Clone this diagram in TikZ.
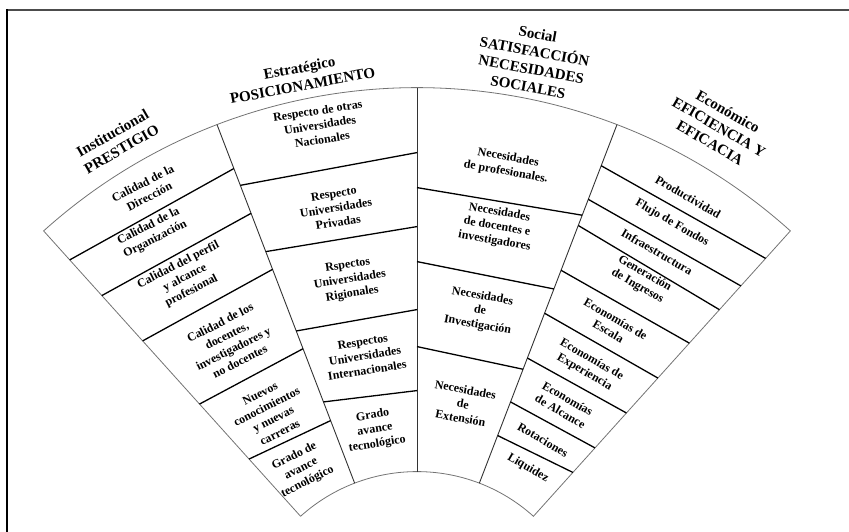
\documentclass[tikz,border=0pt]{standalone}
\usepackage{fontspec}
\setmainfont{Liberation Serif}
\begin{document}
\begin{tikzpicture}[x=1pt,y=1pt,
  celltext/.style={font=\bfseries\fontsize{12}{14.5}\selectfont, align=center, inner sep=0pt},
  headtext/.style={font=\bfseries\fontsize{15}{18}\selectfont, align=center, inner sep=0pt},
  edgeline/.style={draw=black!55, line width=0.8pt},
  sectorline/.style={draw=black!80, line width=0.9pt},
  bandline/.style={draw=black, line width=1.3pt}]
\useasboundingbox (-417,113.6) rectangle (432,645.6);
% frame
\draw[black!70, line width=2pt] (-410,635.6) -- (432,635.6);
\draw[black, line width=2.4pt] (-410,636.6) -- (-410,113.6);
% fan outline
\draw[edgeline] (132:174) -- (132:558) arc[start angle=132, end angle=48, radius=558]
  -- (48:174) arc[start angle=48, end angle=132, radius=174];
% sector dividers
\draw[sectorline] (111:174) -- (111:558);
\draw[sectorline] (90:174) -- (90:558);
\draw[sectorline] (69:174) -- (69:558);
% Institucional bands
\draw[bandline] (132:519) -- (111:511);
\draw[bandline] (132:471) -- (111:463);
\draw[bandline] (132:410) -- (111:403);
\draw[bandline] (132:325) -- (111:318);
\draw[bandline] (132:251) -- (111:241);
% Estrategico bands
\draw[bandline] (111:493) -- (90:493);
\draw[bandline] (111:422) -- (90:419);
\draw[bandline] (111:337) -- (90:336);
\draw[bandline] (111:261) -- (90:255);
% Social bands
\draw[bandline] (90:458) -- (69:461);
\draw[bandline] (90:384) -- (69:382);
\draw[bandline] (90:299) -- (69:296);
% Economico bands
\draw[bandline] (69:514) -- (48:521);
\draw[bandline] (69:478) -- (48:484);
\draw[bandline] (69:450) -- (48:452);
\draw[bandline] (69:402) -- (48:407);
\draw[bandline] (69:356) -- (48:360);
\draw[bandline] (69:308) -- (48:313);
\draw[bandline] (69:261) -- (48:266);
\draw[bandline] (69:225) -- (48:233);
% headers
\node[headtext, rotate=30] (hI) at (-300,504.6) {Institucional\\PRESTIGIO};
\node[headtext, rotate=10.5] (hE) at (-116,569) {Estratégico\\POSICIONAMIENTO};
\node[headtext, rotate=-10.5] (hS) at (116,585.1) {Social\\SATISFACCIÓN\\NECESIDADES\\SOCIALES};
\node[headtext, rotate=-30] (hC) at (302,518.6) {Económico\\EFICIENCIA Y\\EFICACIA};
% Institucional cells
\node[celltext, rotate=27] (i1) at (-271,455.6) {Calidad de la\\Dirección};
\node[celltext, rotate=27] (i2) at (-265,412.6) {Calidad de la\\Organización};
\node[celltext, rotate=27] (i3) at (-232,367.6) {Calidad del perfil\\y alcance\\profesional};
\node[celltext, rotate=27] (i4) at (-187,303.6) {Calidad de los\\docentes,\\investigadores y\\no docentes};
\node[celltext, rotate=27] (i5) at (-147,232.6) {Nuevos\\conocimientos\\y nuevas\\carreras};
\node[celltext, rotate=27] (i6) at (-116,176.6) {Grado de\\avance\\tecnológico};
% Estrategico cells
\node[celltext, rotate=9] (e1) at (-97,520.6) {Respecto de otras\\Universidades\\Nacionales};
\node[celltext, rotate=9] (e2) at (-81,437.6) {Respecto\\Universidades\\Privadas};
\node[celltext, rotate=9] (e3) at (-67,365.6) {Rspectos\\Universidades\\Rigionales};
\node[celltext, rotate=9] (e4) at (-52,289.6) {Respectos\\Universidades\\Internacionales};
\node[celltext, rotate=9] (e5) at (-42,215.6) {Grado\\avance\\tecnológico};
% Social cells
\node[celltext, rotate=-10] (s1) at (90,480.6) {Necesidades\\de profesionales.};
\node[celltext, rotate=-10] (s2) at (80,418.6) {Necesidades\\de docentes e\\investigadores};
\node[celltext, rotate=-10] (s3) at (63,334.6) {Necesidades\\de\\Investigación};
\node[celltext, rotate=-10] (s4) at (46,241.6) {Necesidades\\de\\Extensión};
% Economico cells
\node[celltext, rotate=-30] (c1) at (271,448.6) {Productividad};
\node[celltext, rotate=-30] (c2) at (255,422.6) {Flujo de Fondos};
\node[celltext, rotate=-30] (c3) at (240,393.6) {Infraestructura};
\node[celltext, rotate=-30] (c4) at (224,365.6) {Generación\\de Ingresos};
\node[celltext, rotate=-30] (c5) at (195,320.6) {Economías de\\Escala};
\node[celltext, rotate=-30] (c6) at (171,279.6) {Economías de\\Experiencia};
\node[celltext, rotate=-30] (c7) at (147,240.6) {Economías\\de Alcance};
\node[celltext, rotate=-30] (c8) at (126,205.6) {Rotaciones};
\node[celltext, rotate=-30] (c9) at (111,177.6) {Liquidez};
\end{tikzpicture}
\end{document}
